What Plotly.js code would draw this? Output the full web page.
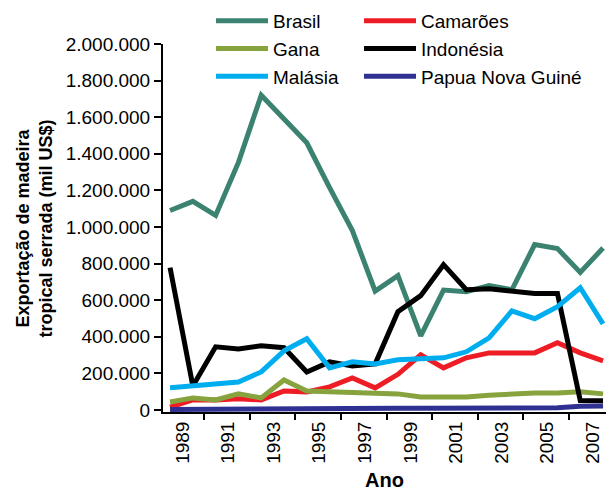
<!DOCTYPE html>
<html>
<head>
<meta charset="utf-8">
<script src="https://cdn.plot.ly/plotly-3.0.1.min.js"></script>
<style>html,body{margin:0;padding:0;background:#fff;}#chart{width:608px;height:492px;}</style>
</head>
<body>
<div id="chart"></div>
<script>
var years = [1988,1989,1990,1991,1992,1993,1994,1995,1996,1997,1998,1999,2000,2001,2002,2003,2004,2005,2006,2007];
var tickYears = [1989,1991,1993,1995,1997,1999,2001,2003,2005,2007];

var brasil    = [1090000,1140000,1063000,1353000,1720000,1585000,1460000,1215000,980000,650000,734000,405000,655000,646000,680000,657000,904000,882000,752000,885000];
var camaroes  = [15000,55000,55000,62000,55000,104000,99000,126000,175000,121000,195000,301000,230000,285000,312000,312000,312000,367000,312000,268000];
var gana      = [44000,66000,55000,88000,66000,164000,104000,99000,93000,88000,88000,71000,71000,71000,80000,88000,93000,93000,99000,88000];
var indonesia = [778000,131000,345000,334000,351000,340000,208000,263000,241000,252000,537000,625000,794000,657000,663000,652000,636000,636000,52000,50000];
var malasia   = [121000,131000,137000,153000,208000,323000,389000,230000,263000,252000,274000,279000,285000,318000,394000,542000,499000,564000,668000,471000];
var papua     = [3000,3000,4000,4000,5000,5000,6000,7000,8000,9000,9000,10000,10000,10000,9000,8000,8000,12000,20000,22000];

var names  = ['Brasil','Camarões','Gana','Indonésia','Malásia','Papua Nova Guiné'];
var series = [brasil, camaroes, gana, indonesia, malasia, papua];
var colors = ['#3B8270','#EE1D25','#86A33E','#000000','#00AEEF','#2E3192'];
var legendOf = ['legend','legend2','legend','legend2','legend','legend2'];
var yTitle = 'Exportação de madeira<br>tropical serrada (mil US$)';

var traces = names.map(function(n, k){
  return {
    x: years, y: series[k], name: n, type: 'scatter', mode: 'lines',
    line: {color: colors[k], width: 5},
    legend: legendOf[k]
  };
});

var font = 'Arial, "Liberation Sans", sans-serif';
var legendCommon = {
  orientation: 'v', xref: 'container', yref: 'container',
  xanchor: 'left', yanchor: 'top',
  font: {family: font, size: 19, color: '#000'},
  bgcolor: 'rgba(0,0,0,0)', borderwidth: 0, itemwidth: 52,
  tracegroupgap: 0
};

var layout = {
  width: 608, height: 492,
  margin: {l: 163, r: 2, t: 44, b: 80, autoexpand: false},
  paper_bgcolor: '#fff', plot_bgcolor: '#fff',
  separators: ',.',
  font: {family: font, size: 19, color: '#000'},
  showlegend: true,
  legend: Object.assign({}, legendCommon, {x: 211/608, y: 1 - 2/492}),
  legend2: Object.assign({}, legendCommon, {x: 359/608, y: 1 - 2/492}),
  xaxis: {
    range: [1987.69, 2007.13],
    tickmode: 'array',
    tickvals: tickYears.map(function(y){ return y - 0.45; }),
    ticktext: tickYears.map(String),
    tickangle: -90,
    ticks: '',
    tickfont: {family: font, size: 19, color: '#000'},
    minor: {
      tickmode: 'array',
      tickvals: tickYears.slice(0, 9).map(function(y){ return y + 0.5; }),
      ticks: 'outside', ticklen: 6, tickwidth: 2, tickcolor: '#000', showgrid: false
    },
    showline: true, linecolor: '#000', linewidth: 2,
    showgrid: false, zeroline: false, automargin: true,
    title: {text: '<b>Ano</b>', font: {family: font, size: 20, color: '#000'}, standoff: 10}
  },
  yaxis: {
    range: [-11000, 2000000],
    tickmode: 'linear', tick0: 0, dtick: 200000,
    tickformat: ',d',
    ticks: 'outside', ticklen: 7, tickwidth: 2, tickcolor: '#000',
    tickfont: {family: font, size: 19, color: '#000'},
    showline: true, linecolor: '#000', linewidth: 2,
    showgrid: false, zeroline: false, automargin: true
  },
  annotations: [{
    text: '<b>' + yTitle + '</b>',
    xref: 'paper', yref: 'paper',
    x: (33.5 - 163) / 443, y: (412 - 229) / 368,
    xanchor: 'center', yanchor: 'middle',
    textangle: -90, showarrow: false,
    font: {family: font, size: 18, color: '#000'}
  }]
};

Plotly.newPlot('chart', traces, layout, {displayModeBar: false, staticPlot: true});
</script>
</body>
</html>
